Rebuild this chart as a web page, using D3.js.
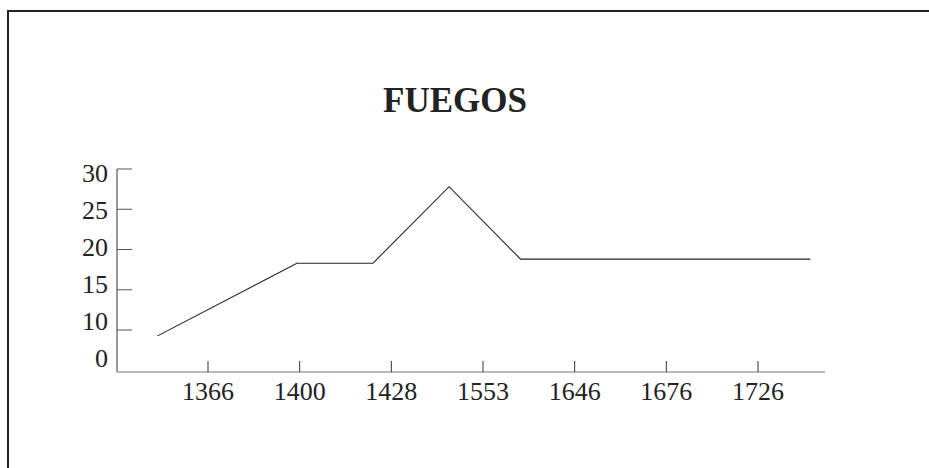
<!DOCTYPE html>
<html><head><meta charset="utf-8">
<script src="https://cdn.jsdelivr.net/npm/d3@7"></script>
<style>
html,body{margin:0;padding:0;background:#fff;overflow:hidden}
text{font-family:"Liberation Serif","DejaVu Serif",serif;fill:#222}
</style></head>
<body><svg id="c" width="929" height="468"></svg>
<script>
const title = "FUEGOS";
const xLabels = ["1366","1400","1428","1553","1646","1676","1726"];
const yTickValues = [10, 15, 20, 25, 30];
const yLabels = ["0","10","15","20","25","30"];
// line points: position along category index, and value
const linePos = [-0.55, 0.97, 1.8, 2.63, 3.41, 6.57];
const lineValues = [8.6, 18.3, 18.3, 27.8, 18.8, 18.8];

const svg = d3.select("#c");
// frame
svg.append("rect").attr("x",8).attr("y",11).attr("width",1000).attr("height",1000)
  .attr("fill","none").attr("stroke","#222").attr("stroke-width",2);

const x = d3.scaleLinear().domain([0, xLabels.length-1]).range([208, 758]);
const y = d3.scaleLinear().domain([0, 10, 30]).range([372, 330, 169]);
const axisX0 = 117, axisX1 = 825;

svg.append("text").attr("x",455).attr("y",112).attr("text-anchor","middle")
  .attr("font-size",35).attr("font-weight","bold").text(title);

// y axis
svg.append("line").attr("x1",axisX0).attr("x2",axisX0).attr("y1",y(30)).attr("y2",y(0))
  .attr("stroke","#555").attr("stroke-width",1.2);
svg.selectAll(".yt").data(yTickValues).enter().append("line")
  .attr("x1",axisX0).attr("x2",axisX0+15).attr("y1",d=>y(d)).attr("y2",d=>y(d))
  .attr("stroke","#555").attr("stroke-width",1);
const yl = d3.scalePoint().domain(yLabels).range([y(0)-14, y(30)+4]);
svg.selectAll(".yl").data(yLabels).enter().append("text")
  .attr("x",108).attr("y",d=>yl(d)).attr("dy","0.35em").attr("text-anchor","end")
  .attr("font-size",26).text(d=>d);

// x axis
svg.append("line").attr("x1",axisX0).attr("x2",axisX1).attr("y1",y(0)).attr("y2",y(0))
  .attr("stroke","#777").attr("stroke-width",1.2);
svg.selectAll(".xt").data(xLabels).enter().append("line")
  .attr("x1",(d,i)=>x(i)).attr("x2",(d,i)=>x(i)).attr("y1",y(0)).attr("y2",y(0)-11)
  .attr("stroke","#333").attr("stroke-width",1);
svg.selectAll(".xl").data(xLabels).enter().append("text")
  .attr("x",(d,i)=>x(i)).attr("y",400).attr("text-anchor","middle")
  .attr("font-size",26).text(d=>d);

// line
const pts = linePos.map((p,i)=>[x(p), y(lineValues[i])]);
svg.append("path").attr("d", d3.line()(pts)).attr("fill","none")
  .attr("stroke","#222").attr("stroke-width",1.1);
</script></body></html>
